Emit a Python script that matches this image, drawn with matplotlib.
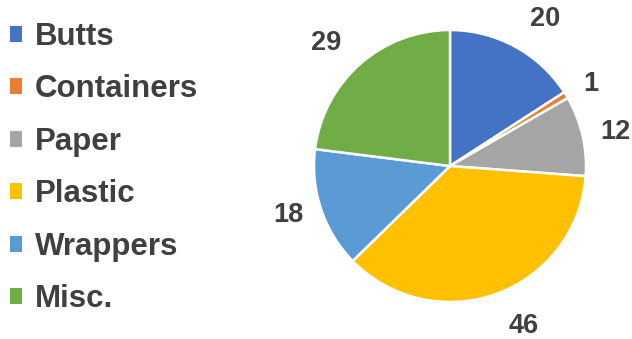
import numpy as np
import matplotlib
matplotlib.use("Agg")
import matplotlib.pyplot as plt
from matplotlib.patches import Patch

categories = ["Butts", "Containers", "Paper", "Plastic", "Wrappers", "Misc."]
values = [20, 1, 12, 46, 18, 29]
colors = ["#4472C4", "#ED7D31", "#A5A5A5", "#FFC000", "#5B9BD5", "#70AD47"]
text_color = "#404040"

# how far out each value label sits (in pie radii)
label_dist = [1.23, 1.15, 1.13, 1.25, 1.14, 1.21]

plt.rcParams['font.family'] = ['Liberation Sans', 'DejaVu Sans']

fig = plt.figure(figsize=(6.32, 3.39), dpi=100)

# pie axes: centre ~ (450, 166) px, radius ~136 px
W, H = 632, 339
cx, cy, r = 450, 166, 136
ax = fig.add_axes([(cx - r) / W, (H - cy - r) / H, 2 * r / W, 2 * r / H])

wedges, texts = ax.pie(values, labels=[str(v) for v in values], colors=colors,
                       startangle=90, counterclock=False, labeldistance=1.2,
                       wedgeprops=dict(edgecolor="white", linewidth=1.8),
                       textprops=dict(fontsize=19.5, fontweight="bold", color=text_color))
for w, t, d in zip(wedges, texts, label_dist):
    ang = np.deg2rad((w.theta1 + w.theta2) / 2)
    t.set_position((d * np.cos(ang), d * np.sin(ang)))
ax.set_xlim(-1, 1)
ax.set_ylim(-1, 1)

handles = [Patch(facecolor=c, edgecolor="none") for c in colors]
fig.legend(handles, categories, loc="upper left", bbox_to_anchor=(-0.004, 0.972),
           frameon=False, handlelength=0.4, handleheight=0.4, handletextpad=0.4,
           labelspacing=0.72, borderaxespad=0.0,
           prop=dict(size=22.5, weight="bold"), labelcolor=text_color)

fig.savefig("out.png", dpi=100)
